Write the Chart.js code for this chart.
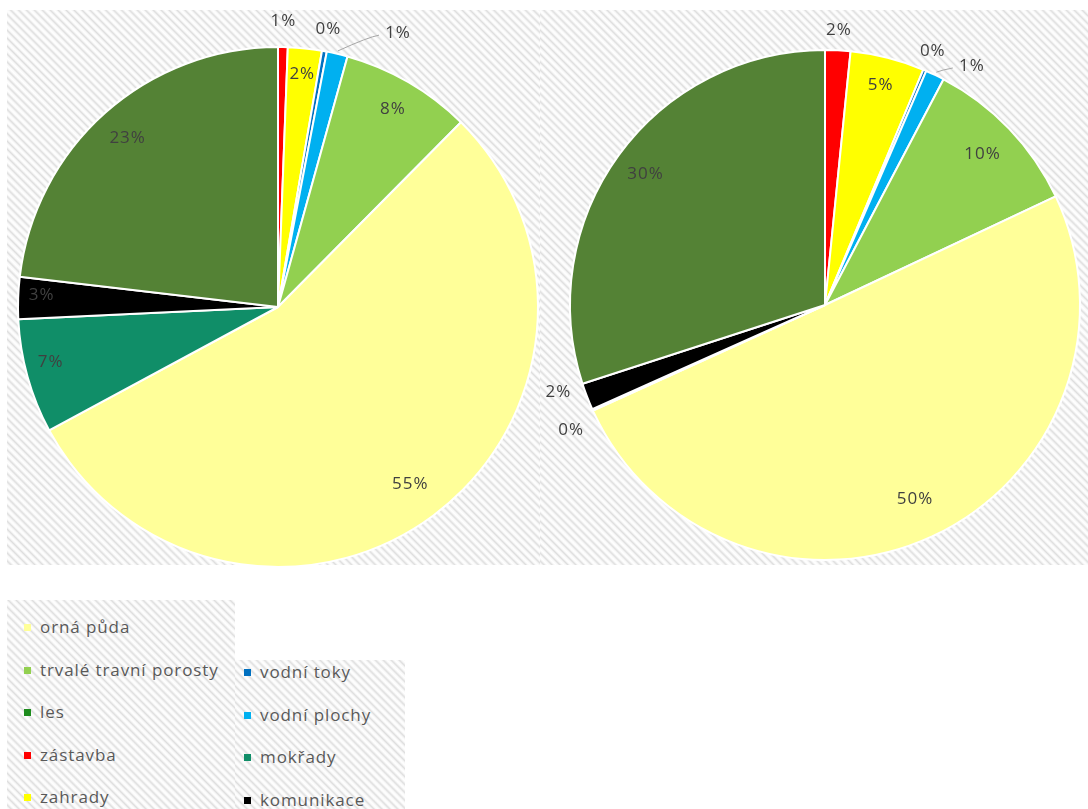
<!DOCTYPE html>
<html lang="cs">
<head>
<meta charset="utf-8">
<title>Využití půdy</title>
<script src="https://cdn.jsdelivr.net/npm/chart.js@4/dist/chart.umd.min.js"></script>
<style>
  html, body { margin: 0; padding: 0; background: #fff; overflow: hidden; }
  body { width: 1088px; height: 809px; position: relative; font-family: 'Open Sans', sans-serif; }
  .hatch {
    position: absolute;
    background: repeating-linear-gradient(45deg, #ffffff 0px, #f8f8f8 1.5px, #dedede 3px, #f8f8f8 4.5px, #ffffff 5.6px);
  }
  canvas { position: absolute; }
  .legend-item { position: absolute; font-size: 17px; letter-spacing: 0.9px; color: #595959; line-height: 20px; white-space: nowrap; }
  .legend-item i { position: absolute; width: 7px; height: 7px; left: -16px; top: 7px; }
</style>
</head>
<body>
<div class="hatch" style="left:7px;top:10px;width:533px;height:555px"></div>
<div class="hatch" style="left:540px;top:10px;width:548px;height:555px"></div>
<div class="hatch" style="left:7px;top:600px;width:228px;height:209px"></div>
<div class="hatch" style="left:235px;top:660px;width:170px;height:149px"></div>
<canvas id="pieLeft"></canvas>
<canvas id="pieRight"></canvas>
<div id="legend"></div>

<script>
(function () {
  'use strict';

  /* ===== Data (legend order) ===== */
  const categories = ['orná půda', 'trvalé travní porosty', 'les', 'zástavba', 'zahrady',
                      'vodní toky', 'vodní plochy', 'mokřady', 'komunikace'];
  const leftValues  = [54.6, 8.1, 23.1, 0.6, 2.1, 0.3, 1.3, 7.1, 2.6];
  const rightValues = [50.2, 10.3, 30.0, 1.6, 4.7, 0.2, 1.2, 0.1, 1.7];
  // order of slices clockwise from 12 o'clock
  const pieOrder = [3, 4, 5, 6, 1, 0, 7, 8, 2];

  const sliceColors  = ['#ffff99', '#92d050', '#548235', '#ff0000', '#ffff00',
                        '#0070c0', '#00b0f0', '#108e68', '#000000'];
  const legendColors = ['#ffff99', '#92d050', '#1e8c1e', '#ff0000', '#ffff00',
                        '#0070c0', '#00b0f0', '#108e68', '#000000'];

  /* label placement per slice (pie order): radius factor, angle shift (deg), leader line */
  const leftLabels = [
    { f: 1.10 }, { f: 0.90 }, { f: 1.085 }, { f: 1.15, da: 10.5, line: true },
    { f: 0.88 }, { f: 0.85 }, { f: 0.90, da: 1.8 }, { f: 0.91, da: 0.9 }, { f: 0.87 }
  ];
  const rightLabels = [
    { f: 1.08 }, { f: 0.89 }, { f: 1.08 }, { f: 1.10, da: 6, line: true },
    { f: 0.855 }, { f: 0.84 }, { f: 1.11, da: -2 }, { f: 1.10, da: 3 }, { f: 0.87 }
  ];

  const labelFont = "17px 'Open Sans', sans-serif";
  const labelColor = '#404040';

  /* ===== Percentage labels plugin ===== */
  const pctLabels = {
    id: 'pctLabels',
    afterDatasetsDraw(chart, args, opts) {
      const ctx = chart.ctx;
      const ds = chart.data.datasets[0];
      const total = ds.data.reduce((a, b) => a + b, 0);
      chart.getDatasetMeta(0).data.forEach((arc, i) => {
        const p = arc.getProps(['x', 'y', 'startAngle', 'endAngle', 'outerRadius'], true);
        const cfg = opts.pos[i] || { f: 0.85 };
        const mid = (p.startAngle + p.endAngle) / 2;
        const a = mid + (cfg.da || 0) * Math.PI / 180;
        const r = p.outerRadius * cfg.f;
        const lx = p.x + Math.cos(a) * r;
        const ly = p.y + Math.sin(a) * r;
        ctx.save();
        if (cfg.line) {
          const sx = p.x + Math.cos(mid) * (p.outerRadius + 3);
          const sy = p.y + Math.sin(mid) * (p.outerRadius + 3);
          ctx.strokeStyle = '#a6a6a6';
          ctx.lineWidth = 1;
          ctx.beginPath();
          ctx.moveTo(sx, sy);
          ctx.quadraticCurveTo(lx - 30, ly + 4, lx - 19, ly + 2);
          ctx.stroke();
        }
        ctx.font = labelFont;
        if ('letterSpacing' in ctx) ctx.letterSpacing = '1px';
        ctx.fillStyle = labelColor;
        ctx.textAlign = 'center';
        ctx.textBaseline = 'middle';
        ctx.fillText(Math.round(ds.data[i] / total * 100) + '%', lx, ly);
        ctx.restore();
      });
    }
  };

  function makePie(id, values, labelPos, cx, cy, radius) {
    const pad = 45;
    const size = 2 * radius + 2 + 2 * pad;
    const canvas = document.getElementById(id);
    canvas.width = size;
    canvas.height = size;
    canvas.style.left = (cx - size / 2) + 'px';
    canvas.style.top = (cy - size / 2) + 'px';
    new Chart(canvas, {
      type: 'pie',
      data: {
        labels: pieOrder.map(i => categories[i]),
        datasets: [{
          data: pieOrder.map(i => values[i]),
          backgroundColor: pieOrder.map(i => sliceColors[i]),
          borderColor: '#ffffff',
          borderWidth: 2
        }]
      },
      options: {
        responsive: false,
        devicePixelRatio: 1,
        animation: false,
        layout: { padding: pad },
        plugins: {
          legend: { display: false },
          tooltip: { enabled: false },
          pctLabels: { pos: labelPos }
        }
      },
      plugins: [pctLabels]
    });
  }

  makePie('pieLeft', leftValues, leftLabels, 278, 307, 260);
  makePie('pieRight', rightValues, rightLabels, 825, 305, 255);

  /* ===== Legend (two columns) ===== */
  const legend = document.getElementById('legend');
  const columns = [
    { x: 40, y: 617, items: [0, 1, 2, 3, 4] },
    { x: 260, y: 662, items: [5, 6, 7, 8] }
  ];
  const rowGap = 42.5;
  columns.forEach(col => {
    col.items.forEach((idx, k) => {
      const el = document.createElement('div');
      el.className = 'legend-item';
      el.style.left = col.x + 'px';
      el.style.top = (col.y + k * rowGap) + 'px';
      el.innerHTML = '<i style="background:' + legendColors[idx] + '"></i>' + categories[idx];
      legend.appendChild(el);
    });
  });
})();
</script>
</body>
</html>
